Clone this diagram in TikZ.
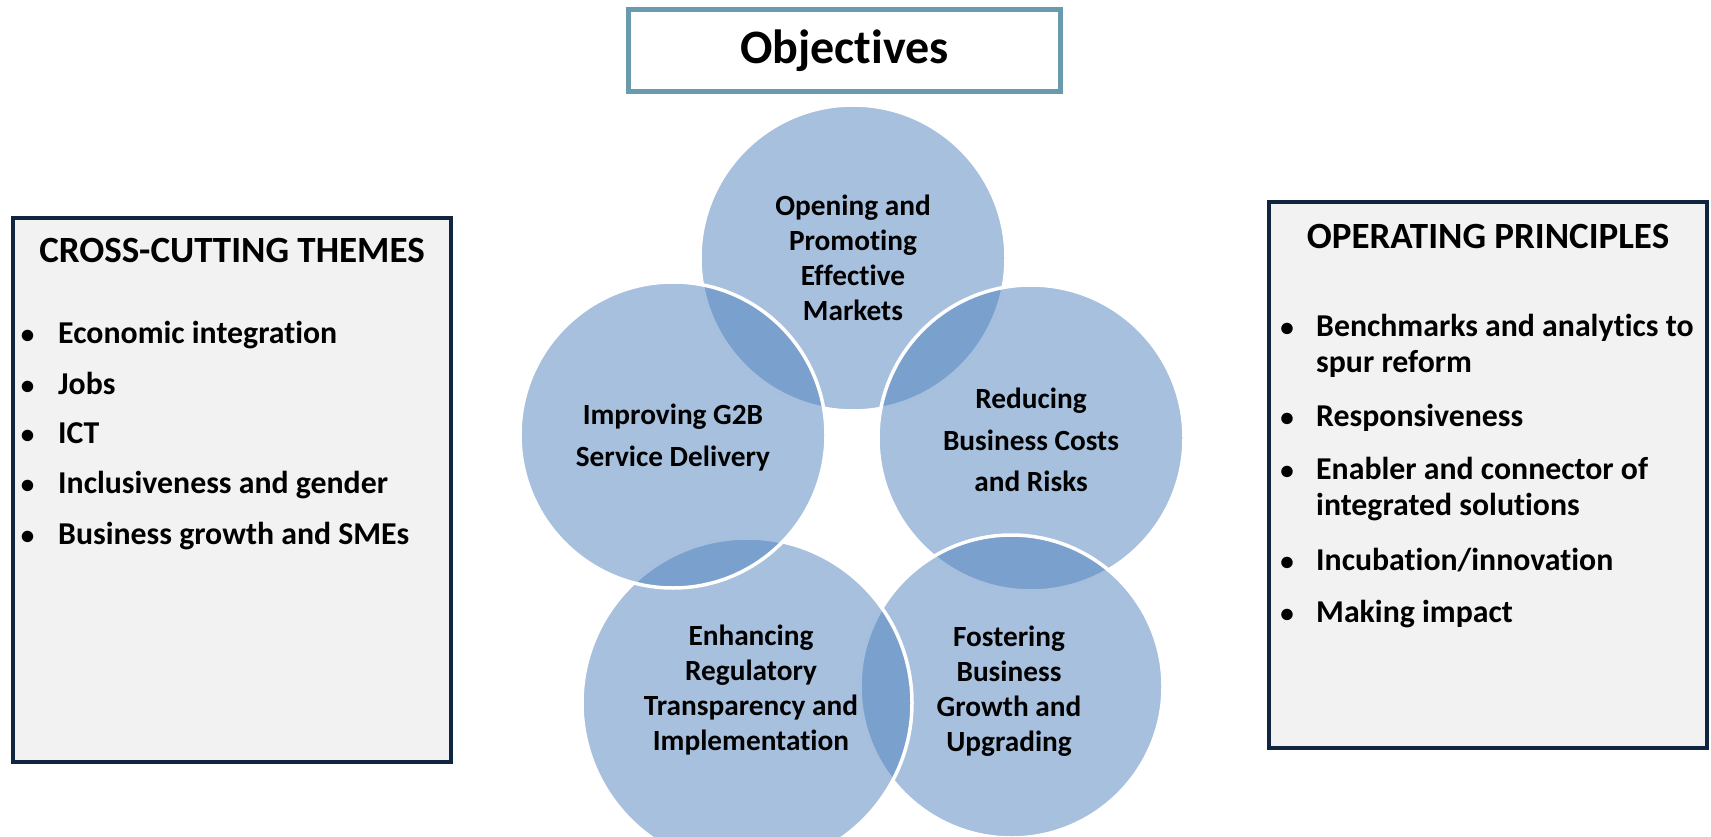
\documentclass[tikz,border=0pt]{standalone}
\usepackage{fontspec}
\setmainfont{Carlito}[Ligatures=NoCommon]
\definecolor{objline}{HTML}{6A9AAD}
\definecolor{panelline}{HTML}{10253F}
\definecolor{panelfill}{HTML}{F2F2F2}
\definecolor{venn}{HTML}{4F81BD}
\begin{document}
\begin{tikzpicture}[x=1pt,y=-1pt,
  objbox/.style={draw=objline,line width=5pt,fill=white,minimum width=432pt,minimum height=82pt,inner sep=0pt},
  panel/.style={draw=panelline,line width=4.5pt,fill=panelfill,minimum width=438pt,inner sep=0pt},
  disc/.style={circle,fill=venn,fill opacity=0.5,text opacity=1,draw=white,line width=3.5pt,inner sep=0pt,outer sep=0pt},
  ctext/.style={align=center,inner sep=0pt,font=\bfseries\fontsize{29.3}{#1}\selectfont},
  ptitle/.style={anchor=base,inner sep=0pt,font=\bfseries\fontsize{37}{44}\selectfont},
  bul/.style={anchor=base,inner sep=0pt,font=\bfseries\fontsize{27}{32}\selectfont},
  item/.style={anchor=base west,inner sep=0pt,font=\bfseries\fontsize{31.8}{38}\selectfont}]
\useasboundingbox (0,0) rectangle (1711,837);

% heading
\node[objbox] (obj) at (844.5,50.5) {\bfseries\fontsize{48}{57}\selectfont Objectives};

% left panel
\node[panel,minimum height=544pt] (cct) at (232,490) {};
\node[ptitle] (cctt) at (232,262) {CROSS-CUTTING THEMES};
\foreach \y/\t [count=\i] in {343/Economic integration,394/Jobs,443/ICT,493/Inclusiveness and gender,544/Business growth and SMEs}{
  \node[bul] (cb\i) at (27.5,\y) {•};
  \node[item] (ci\i) at (58,\y) {\t};
}

% right panel
\node[panel,minimum height=546pt] (opp) at (1488,475) {};
\node[ptitle] (oppt) at (1488,248) {OPERATING PRINCIPLES};
\foreach \y [count=\i] in {336,426,479,570,622}{
  \node[bul] (ob\i) at (1287,\y) {•};
}
\node[item] (oi1) at (1316,336) {Benchmarks and analytics to};
\node[item] (oi1b) at (1316,372) {spur reform};
\node[item] (oi2) at (1316,426) {Responsiveness};
\node[item] (oi3) at (1316,479) {Enabler and connector of};
\node[item] (oi3b) at (1316,515) {integrated solutions};
\node[item] (oi4) at (1316,570) {Incubation/innovation};
\node[item] (oi5) at (1316,622) {Making impact};

% overlapping objective circles, later ones lie over earlier ones
\node[disc,minimum size=306pt] (ct) at (853,258) {};
\node[disc,minimum size=306pt] (cr) at (1031,438) {};
\node[disc,minimum size=303pt] (cbr) at (1011.5,686.5) {};
\node[disc,minimum size=330pt] (cbl) at (747,703) {};
\node[disc,minimum size=306pt] (cl) at (673,435) {};

\node[ctext=35] (tt) at (853,258) {Opening and\\Promoting\\Effective\\Markets};
\node[ctext=42] (tl) at (673,438) {Improving G2B\\Service Delivery};
\node[ctext=41.5] (tr) at (1031,440) {Reducing\\Business Costs\\and Risks};
\node[ctext=35] (tbl) at (751,690.5) {Enhancing\\Regulatory\\Transparency and\\Implementation};
\node[ctext=35] (tbr) at (1009,691) {Fostering\\Business\\Growth and\\Upgrading};
\end{tikzpicture}
\end{document}
